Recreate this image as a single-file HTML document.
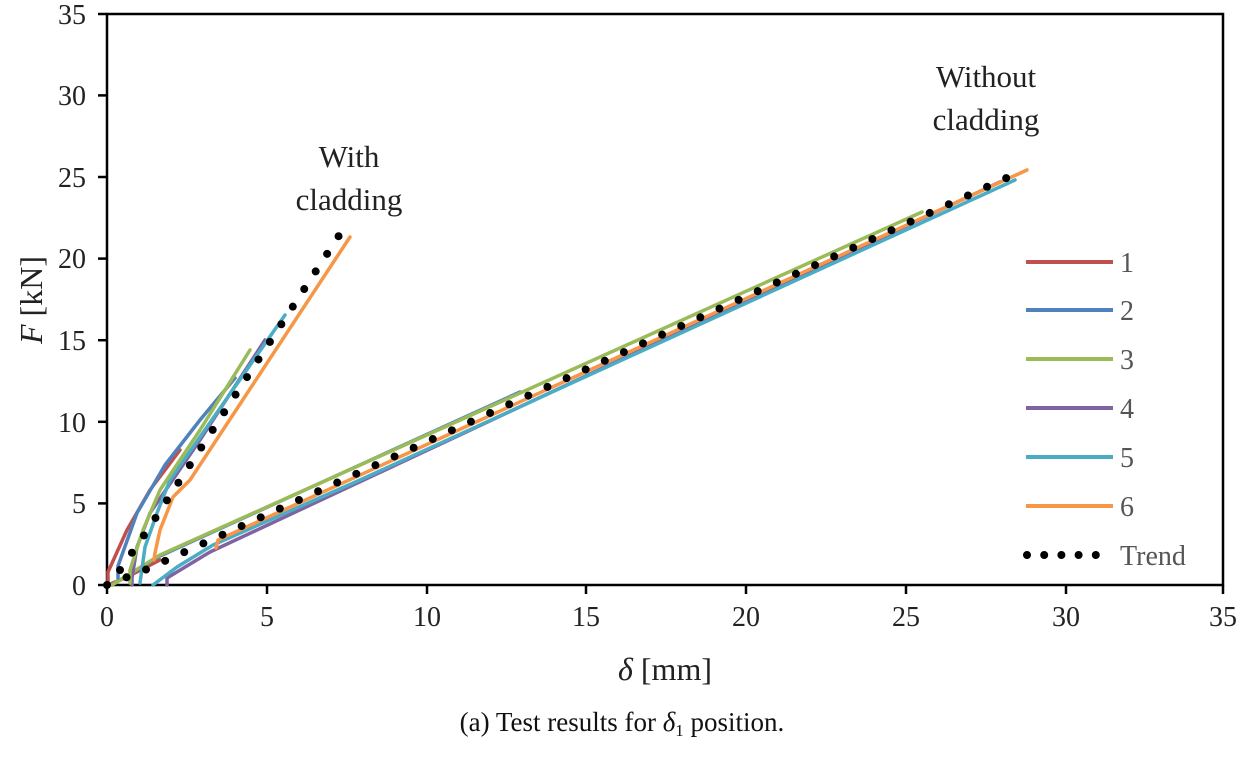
<!DOCTYPE html>
<html><head><meta charset="utf-8"><style>
html,body{margin:0;padding:0;background:#fff}
svg{display:block;font-family:"Liberation Serif",serif}
</style></head><body>
<svg width="1244" height="777" viewBox="0 0 1244 777" xmlns="http://www.w3.org/2000/svg">
<rect x="0" y="0" width="1244" height="777" fill="#fff"/>
<path d="M107,14 H1223 V585 H107 Z" fill="none" stroke="#000" stroke-width="2.5"/>
<g stroke="#000" stroke-width="2.5">
<line x1="98" y1="585" x2="107" y2="585"/><line x1="98" y1="503.4" x2="107" y2="503.4"/>
<line x1="98" y1="421.8" x2="107" y2="421.8"/><line x1="98" y1="340.2" x2="107" y2="340.2"/>
<line x1="98" y1="258.6" x2="107" y2="258.6"/><line x1="98" y1="177" x2="107" y2="177"/>
<line x1="98" y1="95.4" x2="107" y2="95.4"/><line x1="98" y1="14" x2="107" y2="14"/>
<line x1="107" y1="585" x2="107" y2="594"/><line x1="267" y1="585" x2="267" y2="594"/>
<line x1="427" y1="585" x2="427" y2="594"/><line x1="586" y1="585" x2="586" y2="594"/>
<line x1="746" y1="585" x2="746" y2="594"/><line x1="906" y1="585" x2="906" y2="594"/>
<line x1="1066" y1="585" x2="1066" y2="594"/><line x1="1223" y1="585" x2="1223" y2="594"/>
</g>
<g font-size="28" fill="#222" text-anchor="end">
<text x="86" y="595">0</text><text x="86" y="513">5</text><text x="86" y="432">10</text>
<text x="86" y="350">15</text><text x="86" y="268">20</text><text x="86" y="187">25</text>
<text x="86" y="105">30</text><text x="86" y="24">35</text>
</g>
<g font-size="28" fill="#222" text-anchor="middle">
<text x="107" y="626">0</text><text x="267" y="626">5</text><text x="427" y="626">10</text>
<text x="586" y="626">15</text><text x="746" y="626">20</text><text x="906" y="626">25</text>
<text x="1066" y="626">30</text><text x="1223" y="626">35</text>
</g>
<text x="665" y="680" font-size="32" text-anchor="middle" fill="#222"><tspan font-style="italic">δ</tspan> [mm]</text>
<text transform="translate(42,300) rotate(-90)" font-size="32" text-anchor="middle" fill="#222"><tspan font-style="italic">F</tspan> [kN]</text>
<text x="622" y="731" font-size="27" text-anchor="middle" fill="#111">(a)  Test results for <tspan font-style="italic">δ</tspan><tspan font-size="17" dy="5">1</tspan><tspan dy="-5"> position.</tspan></text>
<g font-size="31" fill="#222" text-anchor="middle">
<text x="349" y="167">With</text><text x="349" y="210">cladding</text>
<text x="986" y="87">Without</text><text x="986" y="130">cladding</text>
</g>
<g fill="none" stroke-width="3.5" stroke-linejoin="round" stroke-linecap="round">
<polyline stroke="#c0504d" points="108,585 125,578 160,560"/>
<polyline stroke="#4f81bd" points="112,585 160,556 520,392"/>
<polyline stroke="#8064a2" points="167,585 167,578 210,552 1000,182"/>
<polyline stroke="#4bacc6" points="153,585 177,567 213,545 360,480 1015,180"/>
<polyline stroke="#f79646" points="216,548 218,540 1027,170"/>
<polyline stroke="#9bbb59" points="112,585 160,555 327,480 922,212"/>
<polyline stroke="#c0504d" points="108,585 108,572 127,530 150,490 180,450"/>
<polyline stroke="#4f81bd" points="118,578 118,566 137,513 165,465 200,420 235,378"/>
<polyline stroke="#8064a2" points="132,585 132,578 137,547 150,513 200,440 265,340"/>
<polyline stroke="#4bacc6" points="140,583 145,547 157,513 170,480 285,315"/>
<polyline stroke="#9bbb59" points="130,583 130,570 143,530 160,490 200,430 250,350"/>
<polyline stroke="#f79646" points="154,560 155,553 160,530 173,497 190,480 350,237"/>
</g>
<g fill="none" stroke="#000" stroke-width="8" stroke-linecap="round" stroke-dasharray="0 21">
<polyline points="107,585 145,570 1024,170"/>
<polyline points="120,570 129,557 147,531 340,234"/>
</g>
<g stroke-width="4">
<line x1="1026" y1="262" x2="1113" y2="262" stroke="#c0504d"/>
<line x1="1026" y1="310" x2="1113" y2="310" stroke="#4f81bd"/>
<line x1="1026" y1="359" x2="1113" y2="359" stroke="#9bbb59"/>
<line x1="1026" y1="408" x2="1113" y2="408" stroke="#8064a2"/>
<line x1="1026" y1="457" x2="1113" y2="457" stroke="#4bacc6"/>
<line x1="1026" y1="506" x2="1113" y2="506" stroke="#f79646"/>
<line x1="1027" y1="555" x2="1113" y2="555" stroke="#000" stroke-width="8" stroke-linecap="round" stroke-dasharray="0 17.2"/>
</g>
<g font-size="28" fill="#555">
<text x="1120" y="272">1</text><text x="1120" y="320">2</text><text x="1120" y="369">3</text>
<text x="1120" y="418">4</text><text x="1120" y="467">5</text><text x="1120" y="516">6</text>
<text x="1120" y="565">Trend</text>
</g>
</svg>
</body></html>
